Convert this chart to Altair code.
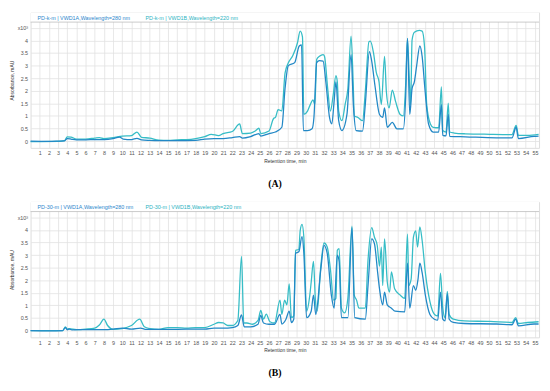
import altair as alt
import pandas as pd

# ---------------- data ----------------
A_DARK_T = [0, 2, 3, 3.7, 4.0, 4.5, 5, 6, 7, 8, 9, 9.7, 10.1, 11, 11.6, 12.1, 13, 14, 16, 18, 19, 20, 21, 22,
            22.8, 23.1, 24, 24.9, 25.1, 26, 26.7, 27.4, 27.75, 28.1, 28.8, 29.3, 29.55, 29.75, 30.2, 30.7, 30.9,
            31.2, 31.5, 31.9, 32.2, 32.6, 32.85, 33.1, 33.3, 33.6, 33.95, 34.5, 34.95, 35.2, 35.5, 36.2, 36.5,
            36.95, 37.2, 37.55, 38.05, 38.4, 38.6, 38.9, 39.45, 39.95, 40.65, 40.9, 41.1, 41.35, 41.6, 41.85,
            42.1, 42.45, 42.7, 43.0, 43.4, 43.9, 44.5, 44.8, 44.95, 45.3, 45.55, 45.7, 47.4, 50.8, 52.5, 52.95,
            53.2, 54.9, 55.4]
A_DARK_V = [0.0, -0.01, 0.0, 0.01, 0.10, 0.07, 0.05, 0.05, 0.06, 0.06, 0.10, 0.16, 0.08, 0.06, 0.11, 0.05,
            0.03, 0.02, 0.02, 0.03, 0.08, 0.10, 0.10, 0.14, 0.18, 0.12, 0.18, 0.30, 0.20, 0.30, 0.36, 0.55,
            2.09, 2.99, 3.12, 3.78, 3.82, 0.42, 0.42, 0.49, 0.94, 3.12, 3.20, 3.18, 2.35, 0.94, 0.68, 1.58,
            2.35, 0.81, 0.42, 1.06, 3.44, 1.45, 0.42, 0.40, 1.45, 3.56, 3.18, 2.22, 1.06, 0.94, 1.32, 0.55,
            0.74, 0.49, 0.49, 1.71, 4.08, 1.06, 2.09, 2.35, 2.99, 3.78, 3.37, 2.09, 0.68, 0.36, 0.36, 1.45,
            0.23, 0.21, 1.06, 0.19, 0.17, 0.13, 0.13, 0.55, 0.10, 0.19, 0.20]

A_LIGHT_T = [0, 3, 3.7, 4.0, 4.4, 5, 6, 7, 7.5, 8, 9, 10, 11, 11.6, 12.1, 13, 14, 15, 16, 17, 18, 19, 19.7,
             20.5, 21, 22, 22.8, 23.1, 24, 24.5, 24.9, 25.1, 26, 26.5, 26.7, 27.0, 27.4, 27.75, 28.1, 28.6,
             29.1, 29.4, 29.65, 29.8, 30.2, 30.5, 30.8, 31.0, 31.2, 31.5, 31.9, 32.05, 32.4, 32.7, 33.0, 33.3,
             33.45, 33.6, 33.95, 34.3, 34.6, 34.95, 35.2, 35.3, 35.7, 36.2, 36.5, 36.9, 37.05, 37.4, 37.7,
             38.0, 38.25, 38.6, 38.8, 39.1, 39.45, 39.8, 40.3, 40.65, 40.9, 41.1, 41.3, 41.45, 41.6, 41.85,
             42.4, 42.7, 42.96, 43.2, 43.6, 43.9, 44.5, 44.8, 44.95, 45.3, 45.55, 45.7, 46.2, 47.4, 50.1,
             52.5, 52.95, 53.2, 54.2, 55.4]
A_LIGHT_V = [-0.02, -0.01, 0.02, 0.17, 0.16, 0.08, 0.08, 0.12, 0.14, 0.10, 0.14, 0.20, 0.22, 0.36, 0.15,
             0.12, 0.04, 0.03, 0.05, 0.06, 0.10, 0.18, 0.27, 0.22, 0.30, 0.38, 0.68, 0.30, 0.32, 0.40, 0.51,
             0.30, 0.40, 0.90, 0.94, 1.25, 1.20, 2.70, 3.10, 3.40, 3.90, 4.37, 4.14, 1.06, 1.19, 1.45, 1.64,
             1.45, 3.24, 3.37, 3.44, 3.37, 2.09, 1.19, 1.83, 2.60, 2.35, 1.19, 0.81, 1.45, 2.09, 4.17, 2.09,
             1.00, 0.94, 0.81, 1.96, 3.95, 3.97, 3.50, 2.73, 2.35, 1.45, 3.37, 1.96, 1.32, 2.03, 1.58, 1.06,
             1.00, 2.22, 4.08, 2.47, 1.45, 4.01, 4.33, 4.40, 4.37, 3.76, 1.45, 0.68, 0.55, 0.53, 2.15, 0.42,
             0.36, 1.51, 0.36, 0.32, 0.29, 0.27, 0.26, 0.62, 0.23, 0.23, 0.27]

B_DARK_T = [0, 2, 3.5, 3.8, 4.0, 4.2, 4.5, 6, 8, 9, 10, 11, 12, 12.5, 14, 16, 18, 19, 20, 21, 22, 22.6, 23.0,
            23.3, 24, 24.8, 25.1, 25.4, 26, 26.6, 27.2, 27.4, 27.85, 28.2, 28.45, 28.7, 28.9, 29.25, 29.6,
            29.8, 30.1, 30.6, 30.85, 31.1, 31.65, 32.0, 32.35, 32.8, 33.1, 33.45, 33.65, 33.9, 34.6, 35.05,
            35.35, 36.5, 36.8, 37.2, 37.5, 37.85, 38.05, 38.4, 38.6, 38.9, 39.35, 39.75, 40.8, 41.1, 41.35,
            41.75, 42.0, 42.25, 42.45, 42.7, 43.05, 43.55, 44.05, 44.4, 44.7, 44.95, 45.2, 45.45, 45.65,
            46.1, 47.3, 50.8, 52.5, 52.9, 53.2, 54.9, 55.4]
B_DARK_V = [0.0, -0.01, 0.0, 0.12, 0.03, 0.06, 0.03, 0.04, 0.04, 0.06, 0.10, 0.06, 0.10, 0.05, 0.05, 0.05,
            0.06, 0.06, 0.10, 0.10, 0.12, 0.20, 0.62, 0.15, 0.15, 0.25, 0.60, 0.30, 0.25, 0.25, 0.64, 0.26,
            0.45, 0.77, 0.32, 0.45, 3.07, 3.13, 3.73, 3.07, 0.51, 0.77, 1.41, 0.64, 2.43, 3.39, 3.07, 1.41,
            0.89, 3.00, 2.75, 0.51, 0.51, 4.09, 0.51, 0.45, 1.79, 3.64, 3.45, 2.30, 1.66, 1.02, 1.53, 1.02,
            0.89, 0.77, 0.74, 2.68, 0.89, 1.79, 1.60, 2.04, 2.68, 2.30, 1.41, 0.64, 0.45, 0.41, 1.53, 0.45,
            0.38, 1.47, 0.45, 0.32, 0.28, 0.26, 0.23, 0.45, 0.19, 0.26, 0.26]

B_LIGHT_T = [0, 2, 3.5, 3.8, 4.0, 4.2, 5, 6, 7, 7.5, 8.0, 8.4, 9, 10, 11, 11.9, 12.4, 13, 14, 15, 16, 17, 18,
             19, 20, 20.5, 21, 21.5, 22, 22.6, 23.0, 23.25, 23.6, 24.2, 24.8, 25.1, 25.4, 25.7, 26.1, 26.6,
             27.2, 27.4, 27.7, 27.95, 28.2, 28.45, 28.7, 28.9, 29.25, 29.4, 29.6, 29.8, 30.1, 30.45, 30.6,
             30.85, 31.05, 31.25, 31.65, 32.0, 32.35, 32.7, 33.05, 33.3, 33.45, 33.65, 33.9, 34.25, 34.6,
             35.05, 35.3, 35.55, 35.8, 36.5, 36.8, 37.2, 37.5, 37.8, 38.05, 38.25, 38.4, 38.6, 38.9, 39.15,
             39.35, 39.7, 40.3, 40.8, 41.1, 41.25, 41.5, 41.75, 42.0, 42.2, 42.45, 42.7, 43.05, 43.55, 44.05,
             44.4, 44.7, 44.95, 45.2, 45.45, 45.65, 46.1, 47.3, 50.1, 52.5, 52.9, 53.2, 54.2, 55.4]
B_LIGHT_V = [0.0, 0.0, 0.0, 0.15, 0.05, 0.08, 0.04, 0.06, 0.10, 0.22, 0.45, 0.20, 0.05, 0.08, 0.20, 0.45,
             0.15, 0.08, 0.05, 0.12, 0.12, 0.10, 0.12, 0.12, 0.25, 0.32, 0.30, 0.20, 0.20, 0.40, 2.95, 0.30,
             0.30, 0.25, 0.40, 0.80, 0.45, 0.65, 0.35, 0.30, 1.21, 0.64, 1.21, 1.02, 1.85, 0.51, 0.58, 3.19,
             3.22, 3.96, 4.22, 3.71, 0.77, 1.41, 1.92, 2.75, 1.28, 0.77, 2.56, 3.48, 3.32, 2.43, 1.21, 1.28,
             3.19, 3.26, 0.89, 0.70, 1.28, 4.15, 1.41, 1.21, 0.89, 0.89, 2.81, 4.09, 3.71, 3.39, 2.56, 3.32,
             1.79, 3.64, 1.92, 1.53, 2.33, 1.66, 1.41, 1.28, 3.83, 1.79, 2.04, 3.71, 3.96, 3.32, 4.12, 3.58,
             2.30, 1.15, 0.64, 0.58, 2.27, 0.89, 0.51, 1.56, 0.64, 0.45, 0.38, 0.36, 0.32, 0.51, 0.28, 0.32,
             0.35]

X_TICKS = list(range(1, 56))
Y_TICKS = [0, 0.5, 1, 1.5, 2, 2.5, 3, 3.5, 4, 4.5]

# ---------------- styling ----------------
W = 518
H = 138
Y_LO, Y_HI = -0.27, 5.115
SEP = 4.73
sep_px = H * (Y_HI - SEP) / (Y_HI - Y_LO)

DARK = "#2288c6"
LIGHT = "#36bdc6"
FONT = "Liberation Sans"
GRID = "#e2e2e2"


def panel(dark_t, dark_v, light_t, light_v, name, letter):
    x = alt.X("t:Q", scale=alt.Scale(domain=[0, 55.45], nice=False, zero=False),
              axis=alt.Axis(values=X_TICKS, title="Retention time, min", titleFontSize=5,
                            titleFont=FONT, titleFontWeight="normal", titleColor="#333",
                            titlePadding=2, labelFontSize=5.5, labelFont=FONT, labelColor="#555",
                            labelPadding=3, ticks=False, domain=False, grid=True, gridColor=GRID,
                            gridWidth=0.8, labelOverlap=False, labelFlush=False))
    y = alt.Y("v:Q", scale=alt.Scale(domain=[Y_LO, Y_HI], nice=False, zero=False),
              axis=alt.Axis(values=Y_TICKS, title="Absorbance, mAU", titleFontSize=5,
                            titleFont=FONT, titleFontWeight="normal", titleColor="#333",
                            titlePadding=3, labelFontSize=5.5, labelFont=FONT, labelColor="#555",
                            labelPadding=3, ticks=False, domain=False, grid=True, gridColor=GRID,
                            gridWidth=0.8, labelOverlap=False,
                            labelExpr="datum.value == 4.5 ? 'x10\u00b3' : '' + datum.value"))

    light = alt.Chart(pd.DataFrame({"t": light_t, "v": light_v})).mark_line(
        color=LIGHT, strokeWidth=1.3, interpolate="monotone").encode(x=x, y=y)
    dark = alt.Chart(pd.DataFrame({"t": dark_t, "v": dark_v})).mark_line(
        color=DARK, strokeWidth=1.3, interpolate="monotone").encode(x=x, y=y)

    one = pd.DataFrame({"a": [0]})
    cover = alt.Chart(one).mark_rect(color="white").encode(
        x=alt.value(0), x2=alt.value(W), y=alt.value(0), y2=alt.value(sep_px))
    sep = alt.Chart(one).mark_rule(color="#bdbdbd", strokeWidth=0.8).encode(
        x=alt.value(0), x2=alt.value(W), y=alt.value(sep_px))
    leg1 = alt.Chart(pd.DataFrame({"lab": [f"{name} | VWD1A,Wavelength=280 nm"]})).mark_text(
        align="left", baseline="middle", fontSize=5.5, font=FONT, color="#2a86cc").encode(
        text="lab:N", x=alt.value(7), y=alt.value(sep_px / 2 + 0.5))
    leg2 = alt.Chart(pd.DataFrame({"lab": [f"{name} | VWD1B,Wavelength=220 nm"]})).mark_text(
        align="left", baseline="middle", fontSize=5.5, font=FONT, color="#2cb3bf").encode(
        text="lab:N", x=alt.value(117), y=alt.value(sep_px / 2 + 0.5))

    return alt.layer(light, dark, cover, sep, leg1, leg2).properties(
        width=W, height=H,
        title=alt.TitleParams(text=letter, orient="bottom", anchor="middle", font="Liberation Serif",
                              fontSize=10, fontWeight="bold", color="#000", offset=16, dx=-10))


pA = panel(A_DARK_T, A_DARK_V, A_LIGHT_T, A_LIGHT_V, "PD-k-m", "(A)")
pB = panel(B_DARK_T, B_DARK_V, B_LIGHT_T, B_LIGHT_V, "PD-30-m", "(B)")

chart = alt.vconcat(pA, pB, spacing=12).properties(
    padding={"left": 0, "top": 0, "right": 0, "bottom": 0}
).configure_view(stroke="#b5b5b5", strokeWidth=1).configure(background="white")

chart.save("out.html", embed_options={"renderer": "svg", "actions": False})
